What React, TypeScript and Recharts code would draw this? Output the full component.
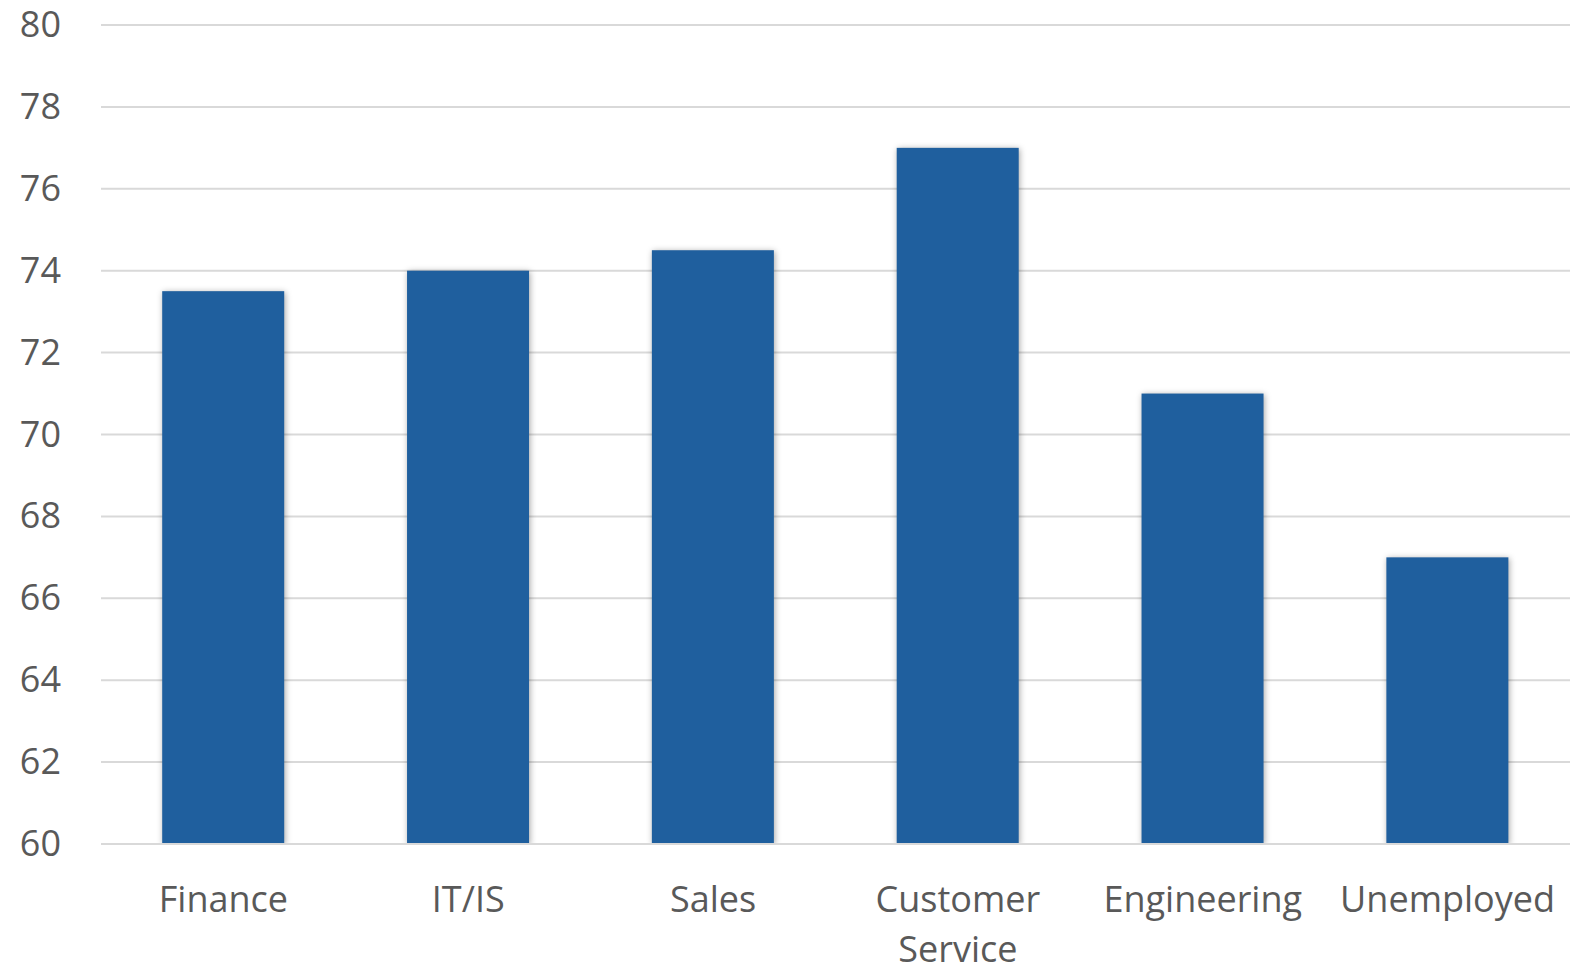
import React from "react";
import { BarChart, Bar, XAxis, YAxis, CartesianGrid } from "recharts";

const categories = ["Finance", "IT/IS", "Sales", "Customer Service", "Engineering", "Unemployed"];
const values = [73.5, 74, 74.5, 77, 71, 67];
const yTicks = [60, 62, 64, 66, 68, 70, 72, 74, 76, 78, 80];

const data = categories.map((name, i) => ({ name, value: values[i] }));

const FONT = "'Open Sans', sans-serif";
const TEXT = "#595959";

const YTick = (props: any) => {
  const { y, payload } = props;
  return (
    <text x={61} y={y} dy={12} textAnchor="end" fontFamily={FONT} fontSize={36} fill={TEXT}>
      {payload.value}
    </text>
  );
};

const XTick = (props: any) => {
  const { x, y, payload } = props;
  const words = String(payload.value).split(" ");
  return (
    <text x={x} y={y} textAnchor="middle" fontFamily={FONT} fontSize={36} fill={TEXT}>
      {words.map((w: string, i: number) => (
        <tspan key={i} x={x} dy={i === 0 ? 68 - (y - 844) : 50}>
          {w}
        </tspan>
      ))}
    </text>
  );
};

const BarShape = (props: any) => {
  const { x, y, width, height, fill } = props;
  return (
    <rect
      x={x}
      y={y}
      width={width}
      height={height}
      fill={fill}
      style={{ filter: "drop-shadow(1px 1px 3px rgba(0,0,0,0.35))" }}
    />
  );
};

export default function App() {
  return (
    <div style={{ position: "absolute", left: 0, top: 0, width: 1570, height: 970, background: "#fff" }}>
      <BarChart
        width={1570}
        height={970}
        data={data}
        margin={{ top: 25, right: 0, bottom: 0, left: 0 }}
        barCategoryGap="25%"
      >
        <CartesianGrid vertical={false} stroke="#D9D9D9" strokeWidth={2} />
        <XAxis
          dataKey="name"
          axisLine={{ stroke: "#D9D9D9", strokeWidth: 2 }}
          tickLine={false}
          interval={0}
          tick={<XTick />}
          height={126}
        />
        <YAxis
          width={101}
          domain={[60, 80]}
          ticks={yTicks}
          allowDataOverflow
          axisLine={false}
          tickLine={false}
          tick={<YTick />}
        />
        <Bar dataKey="value" fill="#1F5F9E" isAnimationActive={false} shape={<BarShape />} />
      </BarChart>
    </div>
  );
}
